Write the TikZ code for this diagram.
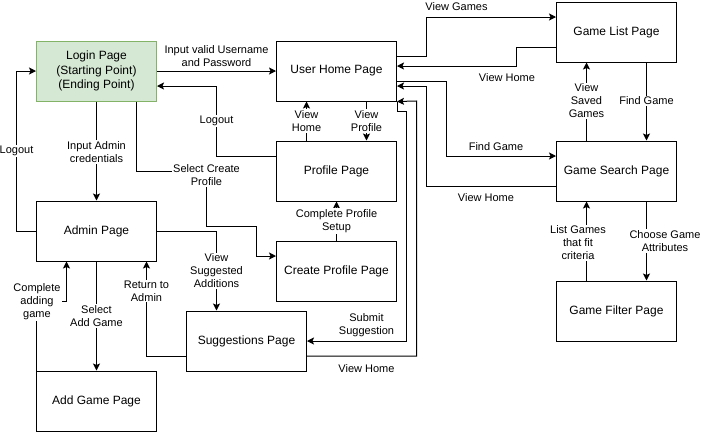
\documentclass[tikz,border=0pt]{standalone}
\usepackage{fontspec}
\setmainfont{Liberation Sans}
\usetikzlibrary{arrows.meta,calc}
\definecolor{gfill}{HTML}{D5E8D4}
\definecolor{gdraw}{HTML}{82B366}
\begin{document}
\begin{tikzpicture}[x=1pt,y=-1pt,
  page/.style={draw, line width=1pt, minimum width=120pt, minimum height=60pt, align=center,
    font=\fontsize{12}{14.5}\selectfont, inner sep=0pt},
  lbl/.style={fill=white, align=center, font=\fontsize{11}{13}\selectfont, inner sep=1pt},
  arr/.style={line width=1pt, -{Stealth[length=7pt,width=7pt,inset=1.5pt]}}]
\useasboundingbox (0,0) rectangle (702,432);
% nodes
\node[page, fill=gfill, draw=gdraw] (login) at (96.5,71) {Login Page\\(Starting Point)\\(Ending Point)};
\node[page] (home) at (336.5,71) {User Home Page};
\node[page] (list) at (616.5,32) {Game List Page};
\node[page] (search) at (616.5,171) {Game Search Page};
\node[page] (filter) at (616.5,311) {Game Filter Page};
\node[page] (profile) at (336.5,171) {Profile Page};
\node[page] (create) at (336.5,271) {Create Profile Page};
\node[page] (admin) at (96.5,231) {Admin Page};
\node[page] (addgame) at (96.5,401) {Add Game Page};
\node[page] (sugg) at (246.5,341) {Suggestions Page};
% edges
\draw[arr] (login) -- (home);
\draw[arr] ($(profile.west)+(0,-15)$) -| (216.5,86) -- ($(login.east)+(0,15)$);
\draw[arr] (login.south) -- (admin.north);
\draw[arr] (admin.west) -- ++(-20,0) |- (login.west);
\draw[arr] ($(login.south)+(40,0)$) |- (206.5,171) -- (206.5,226) -| (256.5,256) -- ($(create.west)+(0,-15)$);
\draw[arr] (create.north) -- (profile.south);
\draw[arr] ($(profile.north)+(-30,0)$) -- ($(home.south)+(-30,0)$);
\draw[arr] ($(home.south)+(30,0)$) -- ($(profile.north)+(30,0)$);
\draw[arr] ($(home.east)+(0,-15)$) -| (426.5,17) -- ($(list.west)+(0,-15)$);
\draw[arr] ($(list.west)+(0,15)$) -| (516.5,66) -- ($(home.east)+(0,-5)$);
\draw[arr] ($(home.east)+(0,10)$) -| (446.5,156) -- ($(search.west)+(0,-15)$);
\draw[arr] ($(search.west)+(0,15)$) -| (426.5,86) -- ($(home.east)+(0,15)$);
\draw[arr] (home.south east) -- ++(0,10) -| (406.5,341) -- (sugg.east);
\draw[arr] ($(sugg.east)+(0,15)$) -| (416.5,101) -- (home.south east);
\draw[arr] (admin.east) -| ($(sugg.north)+(-30,0)$);
\draw[arr] ($(sugg.west)+(0,15)$) -| ($(admin.south)+(50,0)$);
\draw[arr] (admin.south) -- (addgame.north);
\draw[arr] (addgame.north west) |- ($(admin.south)+(-30,40)$) -- ($(admin.south)+(-30,0)$);
\draw[arr] ($(list.south)+(30,0)$) -- ($(search.north)+(30,0)$);
\draw[arr] ($(search.north)+(-30,0)$) -- ($(list.south)+(-30,0)$);
\draw[arr] ($(search.south)+(30,0)$) -- ($(filter.north)+(30,0)$);
\draw[arr] ($(filter.north)+(-30,0)$) -- ($(search.south)+(-30,0)$);
% labels
\node[lbl] (l1) at (216.5,56) {Input valid Username\\and Password};
\node[lbl] (l2) at (216.5,121) {Logout};
\node[lbl] (l3) at (96.5,152) {Input Admin\\credentials};
\node[lbl] (l4) at (16.5,151) {Logout};
\node[lbl] (l5) at (206.5,175) {Select Create\\Profile};
\node[lbl] (l6) at (336.5,221) {Complete Profile\\Setup};
\node[lbl] (l7) at (306.5,121) {View\\Home};
\node[lbl] (l8) at (366.5,121) {View\\Profile};
\node[lbl] (l9) at (456.5,7) {View Games};
\node[lbl] (l10) at (507,78) {View Home};
\node[lbl] (l11) at (496,147) {Find Game};
\node[lbl] (l12) at (486,198) {View Home};
\node[lbl] (l13) at (366.5,325) {Submit\\Suggestion};
\node[lbl] (l14) at (366.5,369) {View Home};
\node[lbl] (l15) at (216.5,271) {View\\Suggested\\Additions};
\node[lbl] (l16) at (146.5,291) {Return to\\Admin};
\node[lbl] (l17) at (96.5,316) {Select\\Add Game};
\node[lbl] (l18) at (37,302) {Complete\\adding\\game};
\node[lbl] (l19) at (646.5,101) {Find Game};
\node[lbl] (l20) at (586.5,101) {View\\Saved\\Games};
\node[lbl] (l21) at (665,241) {Choose Game\\Attributes};
\node[lbl] (l22) at (578,243) {List Games\\that fit\\criteria};
\end{tikzpicture}
\end{document}
